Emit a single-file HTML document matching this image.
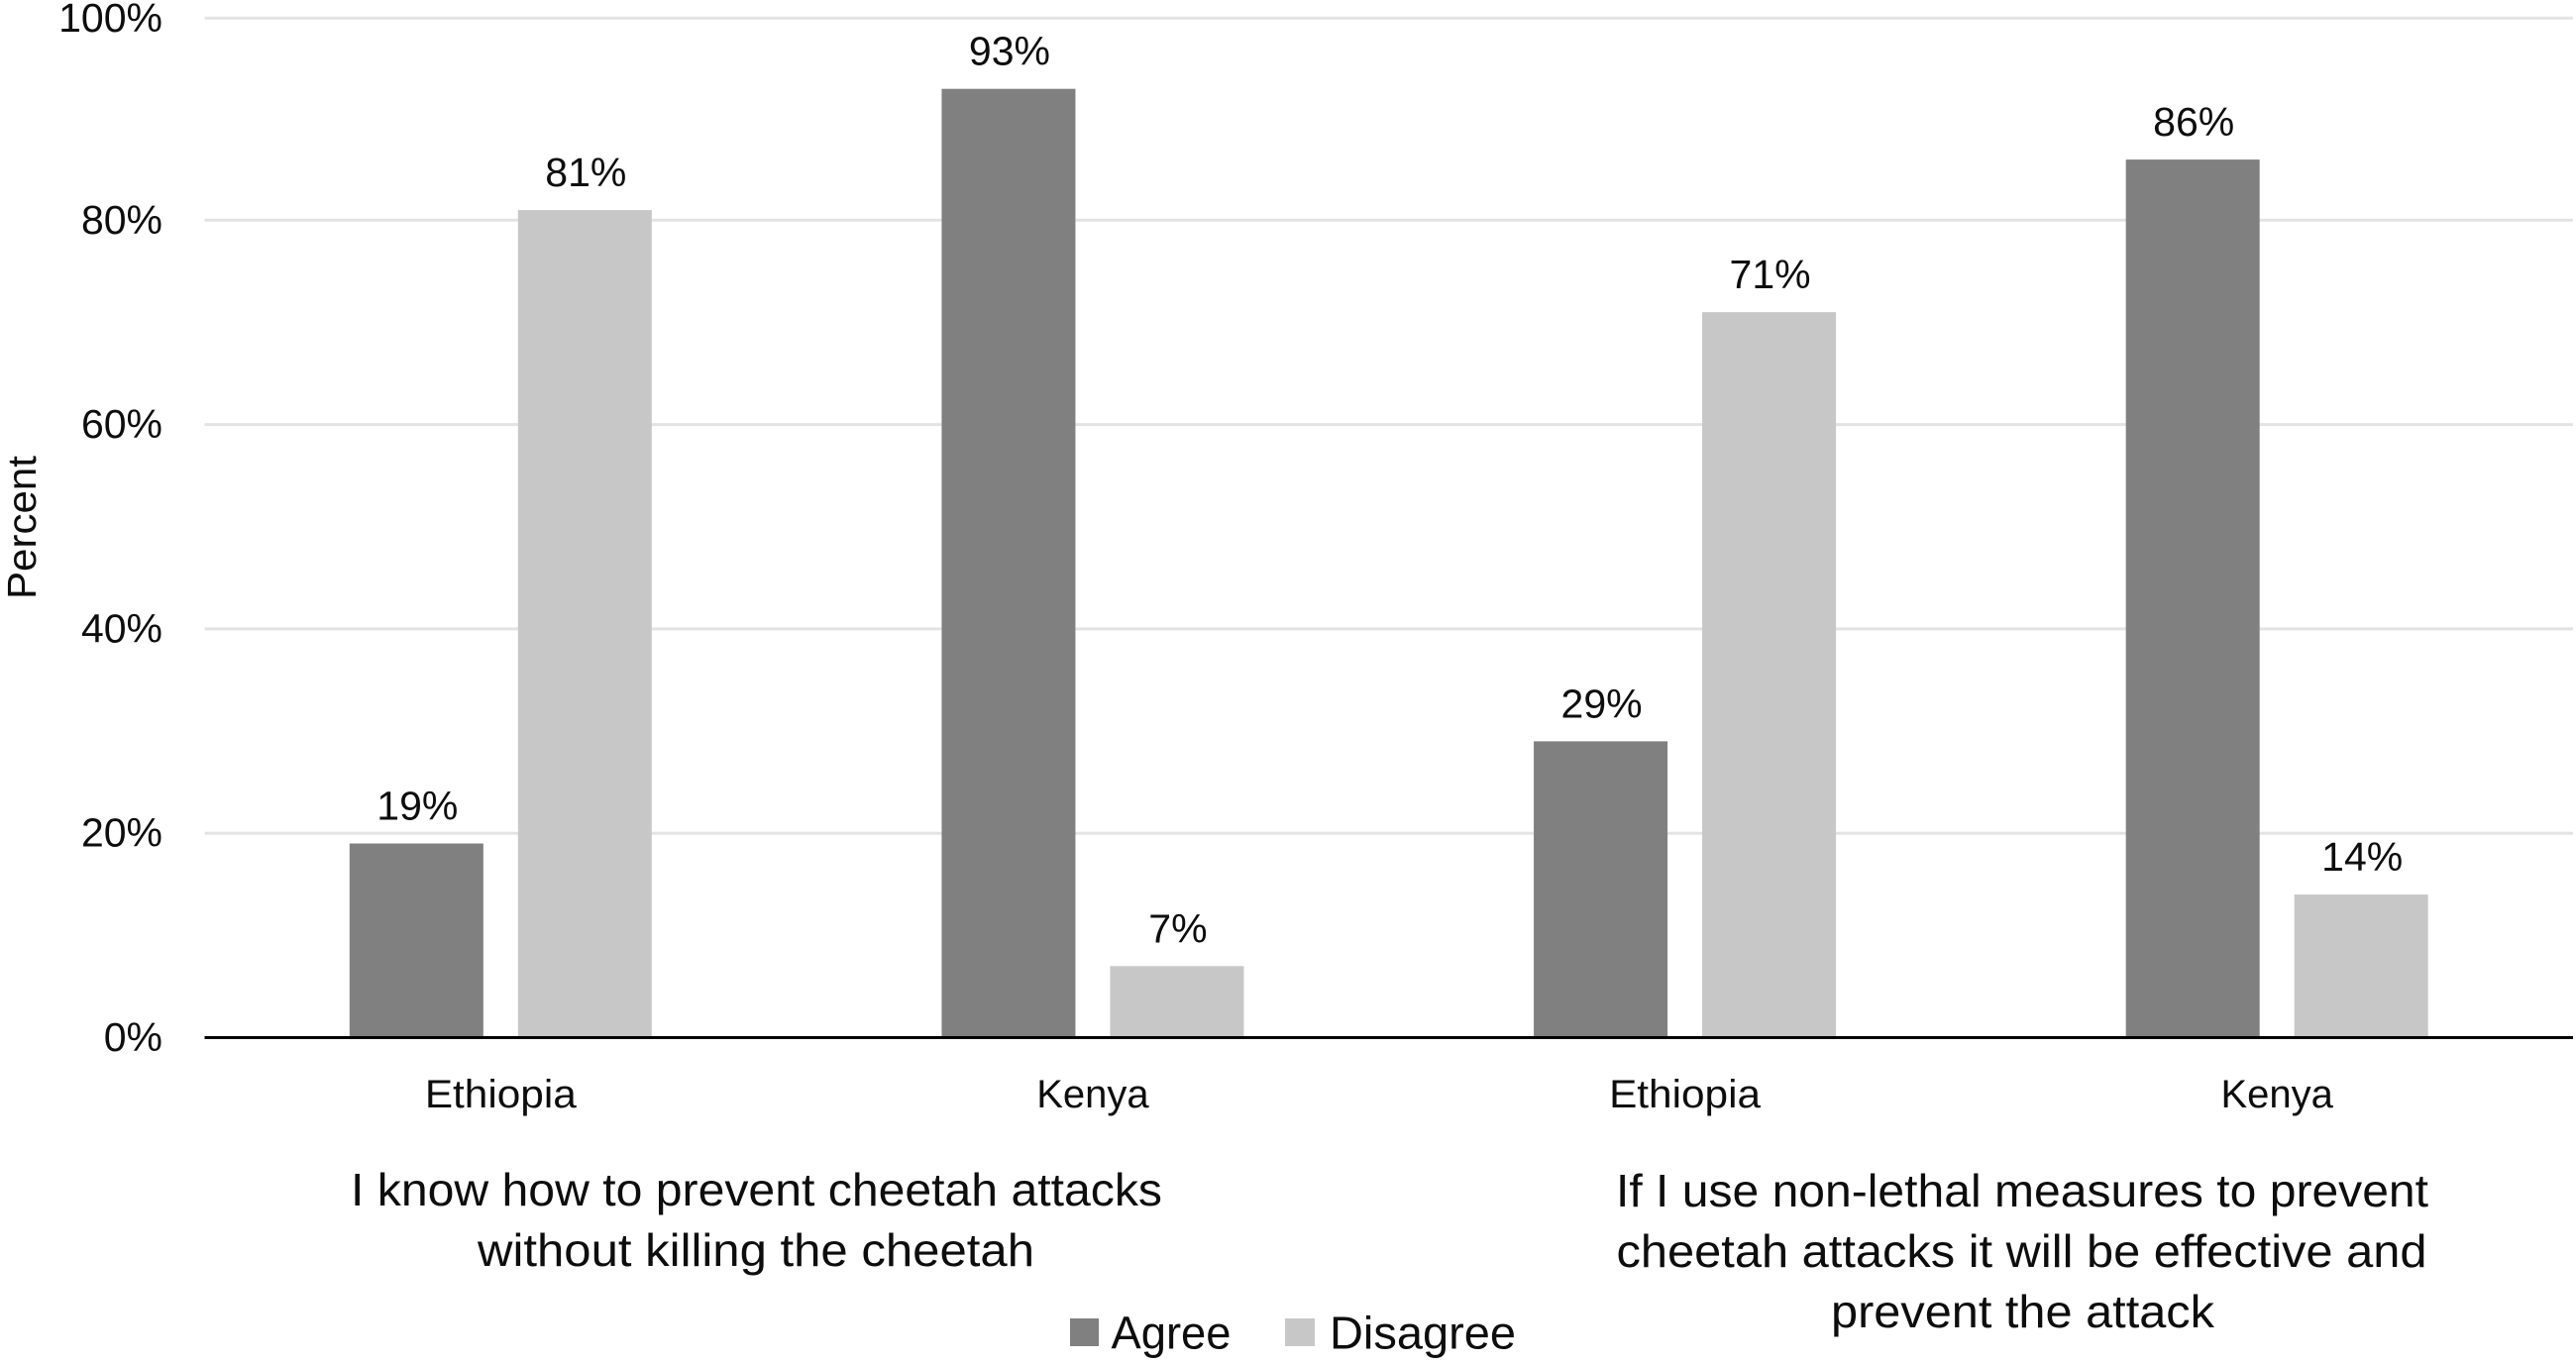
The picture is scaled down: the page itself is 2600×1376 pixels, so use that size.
<!DOCTYPE html>
<html lang="en">
<head>
<meta charset="utf-8">
<title>Cheetah attack prevention survey</title>
<style>
  html, body { margin: 0; padding: 0; background: #ffffff; }
  body { width: 2600px; height: 1376px; overflow: hidden; }
  svg { display: block; }
  text { font-family: "Liberation Sans", sans-serif; fill: #0d0d0d; }
</style>
</head>
<body>
<svg id="chart" xmlns="http://www.w3.org/2000/svg" width="2600" height="1376" viewBox="0 0 2600 1376">
  <rect x="0" y="0" width="2600" height="1376" fill="#ffffff"/>
  <g id="grid"></g>
  <g id="bars"></g>
  <g id="labels"></g>
  <g id="yticks"></g>
  <g id="xticks"></g>
  <line id="baseline" stroke="#000000" stroke-width="3"/>
  <text transform="translate(36 532.5) rotate(-90)" text-anchor="middle" font-size="41" textLength="145" lengthAdjust="spacingAndGlyphs">Percent</text>

  <g>
    <text x="763.5" y="1217" text-anchor="middle" font-size="46" textLength="819" lengthAdjust="spacingAndGlyphs">I know how to prevent cheetah attacks</text>
    <text x="763" y="1278" text-anchor="middle" font-size="46" textLength="562" lengthAdjust="spacingAndGlyphs">without killing the cheetah</text>
  </g>
  <g>
    <text x="2041" y="1218" text-anchor="middle" font-size="46" textLength="820" lengthAdjust="spacingAndGlyphs">If I use non-lethal measures to prevent</text>
    <text x="2040.5" y="1279" text-anchor="middle" font-size="46" textLength="818" lengthAdjust="spacingAndGlyphs">cheetah attacks it will be effective and</text>
    <text x="2041.5" y="1340" text-anchor="middle" font-size="46" textLength="387" lengthAdjust="spacingAndGlyphs">prevent the attack</text>
  </g>

  <g>
    <g>
      <rect x="1080" y="1331" width="29" height="28" fill="#808080"/>
      <text x="1121.5" y="1361.7" font-size="46" textLength="121" lengthAdjust="spacingAndGlyphs">Agree</text>
    </g>
    <g>
      <rect x="1297" y="1331" width="30" height="28" fill="#c7c7c7"/>
      <text x="1342" y="1361.7" font-size="46" textLength="188" lengthAdjust="spacingAndGlyphs">Disagree</text>
    </g>
  </g>
</svg>
<script>
const categories = ["Ethiopia", "Kenya", "Ethiopia", "Kenya"];
const agreeValues = [19, 93, 29, 86];
const disagreeValues = [81, 7, 71, 14];
const yTickValues = [0, 20, 40, 60, 80, 100];

const SVG_NS = "http://www.w3.org/2000/svg";
const plotLeft = 206.5, plotRight = 2597, plotBottom = 1047.5, plotTop = 18.3;
const yBreakValue = 80, yBreakPixel = 222.3, yMax = 100;
const bandWidth = (plotRight - plotLeft) / categories.length;
const barWidth = 135, barOffset = 85;

/* The reference's vertical scale is slightly compressed above 80%. */
function yScale(v) {
  if (v <= yBreakValue) return plotBottom - (v / yBreakValue) * (plotBottom - yBreakPixel);
  return yBreakPixel - ((v - yBreakValue) / (yMax - yBreakValue)) * (yBreakPixel - plotTop);
}
function xCenter(i) { return plotLeft + (i + 0.5) * bandWidth; }
function make(tag, attrs, text) {
  const el = document.createElementNS(SVG_NS, tag);
  for (const k in attrs) el.setAttribute(k, attrs[k]);
  if (text !== undefined) el.textContent = text;
  return el;
}

const gridG = document.getElementById("grid");
const yTicksG = document.getElementById("yticks");
yTickValues.forEach(function (t) {
  if (t !== 0) {
    const gl = make("line", { x1: plotLeft, x2: plotRight, y1: yScale(t), y2: yScale(t), stroke: "#e3e3e3", "stroke-width": 3 });
    
    
    gridG.appendChild(gl);
  }
  const lab = make("text", { x: 164, y: yScale(t) + 13.5, "text-anchor": "end", "font-size": 41 }, t + "%");
  
  
  yTicksG.appendChild(lab);
});

const barsG = document.getElementById("bars");
const labelsG = document.getElementById("labels");

function drawSeries(values, sign, color, barName, labelName) {
  values.forEach(function (v, i) {
    const cx = xCenter(i) + sign * barOffset;
    const r = make("rect", { x: cx - barWidth / 2, y: yScale(v), width: barWidth, height: plotBottom - yScale(v), fill: color });
    
    
    barsG.appendChild(r);
    const t = make("text", { x: cx + 1, y: yScale(v) - 24, "text-anchor": "middle", "font-size": 41 }, v + "%");
    
    
    labelsG.appendChild(t);
  });
}
drawSeries(agreeValues, -1, "#808080", "bar-agree", "data-label-agree");
drawSeries(disagreeValues, 1, "#c7c7c7", "bar-disagree", "data-label-disagree");

const xTicksG = document.getElementById("xticks");
categories.forEach(function (c, i) {
  const t = make("text", { x: xCenter(i), y: 1118, "text-anchor": "middle", "font-size": 40 }, c);
  if (c === "Ethiopia") {
    t.setAttribute("textLength", 153);
    t.setAttribute("lengthAdjust", "spacingAndGlyphs");
  }
  
  
  xTicksG.appendChild(t);
});

const base = document.getElementById("baseline");
base.setAttribute("x1", plotLeft);
base.setAttribute("x2", plotRight);
base.setAttribute("y1", yScale(0));
base.setAttribute("y2", yScale(0));
</script>
</body>
</html>
